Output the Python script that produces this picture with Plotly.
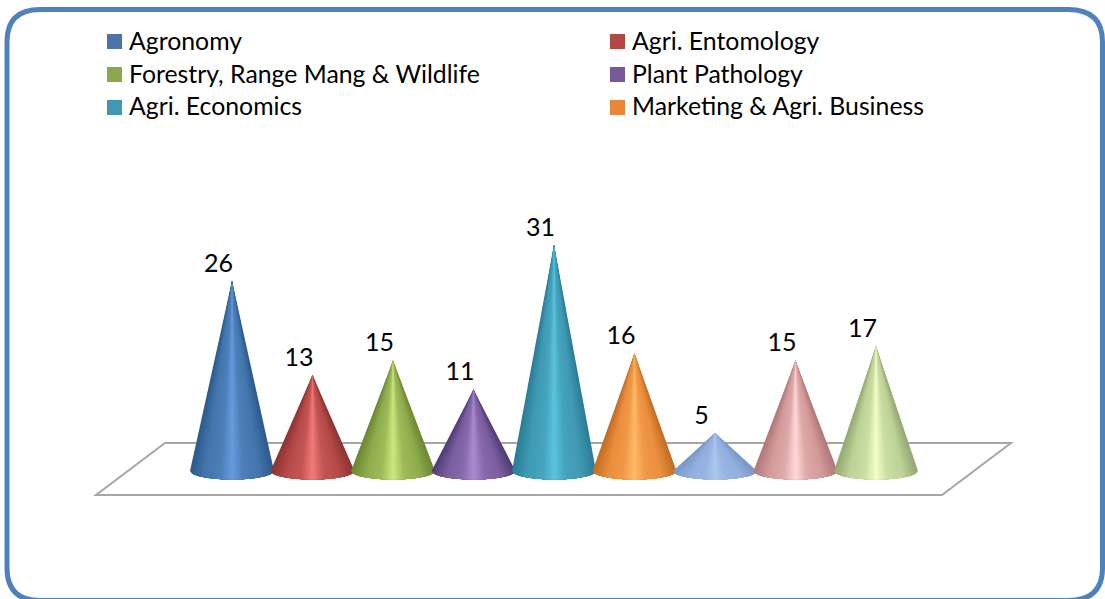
import numpy as np
import plotly.graph_objects as go

values = [26, 13, 15, 11, 31, 16, 5, 15, 17]
legend_labels = ["Agronomy", "Agri. Entomology", "Forestry, Range Mang & Wildlife",
                 "Plant Pathology", "Agri. Economics", "Marketing & Agri. Business"]
legend_colors = ["#4a74aa", "#b04844", "#8ca84c", "#75599b", "#4099b2", "#e8873c"]
edge_colors = ["#2c5a8c", "#8c3432", "#6c8733", "#523c75", "#2a7d93", "#c26d24", "#7b97c4", "#b07879", "#93a873"]
mid_colors = ["#4475ac", "#b44a48", "#8fac4d", "#7a5ea0", "#3f99b3", "#ea8e3c", "#92aede", "#d49a9a", "#bcd296"]
high_colors = ["#669cdd", "#f27c7a", "#cbe97e", "#ab8cd2", "#5cc4df", "#ffbb68", "#abc6ef", "#ffd8d8", "#f4ffca"]

W, H = 1105, 599
X0, DX = 232.0, 80.5      # pixel of first cone, pixels per category
Y0, DY = 469.0, 7.23      # pixel of value 0, pixels per unit
HALF_W = 42 / DX
BASE_Y = -2 / DY          # centre of the cone's base ellipse
BASE_RY = 8.5 / DY
LAYERS = 24
STOPS = [0, 0.34, 0.72, 1]  # shade from the cone's rim (0) to its centre line (1)
LEGEND_TEXT_ROWS = [40.5, 74, 106]

def rgb(h):
    return np.array([int(h[j:j + 2], 16) for j in (1, 3, 5)], dtype=float)

fig = go.Figure()
for i, v in enumerate(values):
    e, m, h = rgb(edge_colors[i]), rgb(mid_colors[i]), rgb(high_colors[i])
    ramp = [e, m, m * 0.75 + h * 0.25, h]
    for k in range(LAYERS):
        t = 1 - k / LAYERS             # half width of this nested layer
        s = (k + 0.5) / LAYERS
        c = [np.interp(s, STOPS, [r[ch] for r in ramp]) for ch in range(3)]
        color = f"rgb({c[0]:.0f},{c[1]:.0f},{c[2]:.0f})"
        base = np.linspace(-t, t, 40)
        xs = np.concatenate([[i], i + HALF_W * base, [i]])
        ys = np.concatenate([[v], BASE_Y - BASE_RY * np.sqrt(np.clip(1 - base ** 2, 0, 1)), [v]])
        fig.add_trace(go.Scatter(x=xs, y=ys, mode="lines", fill="toself", fillcolor=color,
                                 line=dict(width=0), showlegend=False, hoverinfo="skip"))

fig.add_trace(go.Scatter(
    x=[i - 13.5 / DX for i in range(len(values))],
    y=[v + 15.5 / DY for v in values],
    mode="text", text=[str(v) for v in values], textposition="middle center",
    textfont=dict(family="Lato", size=25, color="#000000"), showlegend=False, hoverinfo="skip",
))

def px(x):
    return x / W

def py(y):
    return 1 - y / H

shapes = [
    dict(type="path", xref="paper", yref="paper", layer="below",
         path=f"M {px(96)} {py(495)} L {px(942)} {py(495)} L {px(1011)} {py(443)} L {px(165)} {py(443)} Z",
         line=dict(color="#a6a6a6", width=2), fillcolor="rgba(255,255,255,0)"),
    dict(type="path", xref="paper", yref="paper", layer="below",
         path=(f"M {px(7)} {py(42)} Q {px(7)} {py(9.5)} {px(40)} {py(9.5)} L {px(1068)} {py(9.5)} "
               f"Q {px(1102.5)} {py(9.5)} {px(1102.5)} {py(42)} L {px(1102.5)} {py(568)} "
               f"Q {px(1102.5)} {py(600.5)} {px(1068)} {py(600.5)} L {px(40)} {py(600.5)} "
               f"Q {px(7)} {py(600.5)} {px(7)} {py(568)} Z"),
         line=dict(color="#4f81bd", width=5), fillcolor="rgba(255,255,255,0)"),
]
annotations = []
for k, (lab, col) in enumerate(zip(legend_labels, legend_colors)):
    col_x = 107 if k % 2 == 0 else 610
    row = k // 2
    box_y = 41.5 + 33 * row
    shapes.append(dict(type="rect", xref="paper", yref="paper",
                       x0=px(col_x), x1=px(col_x + 15), y0=py(box_y + 7.5), y1=py(box_y - 7.5),
                       line=dict(width=0), fillcolor=col))
    annotations.append(dict(text=lab, xref="paper", yref="paper", x=px(col_x + 20), y=py(LEGEND_TEXT_ROWS[row]),
                            xanchor="left", yanchor="middle", showarrow=False,
                            font=dict(family="Lato", size=24.8, color="#000000")))

fig.update_layout(
    width=W, height=H, margin=dict(l=0, r=0, t=0, b=0),
    paper_bgcolor="#ffffff", plot_bgcolor="#ffffff", showlegend=False,
    shapes=shapes, annotations=annotations,
    xaxis=dict(range=[-X0 / DX, (W - X0) / DX], visible=False, fixedrange=True),
    yaxis=dict(range=[(Y0 - H) / DY, Y0 / DY], visible=False, fixedrange=True),
)
fig.write_html("out.html", config=dict(displayModeBar=False),
               post_script="document.body.style.margin='0';document.body.style.overflow='hidden';")
